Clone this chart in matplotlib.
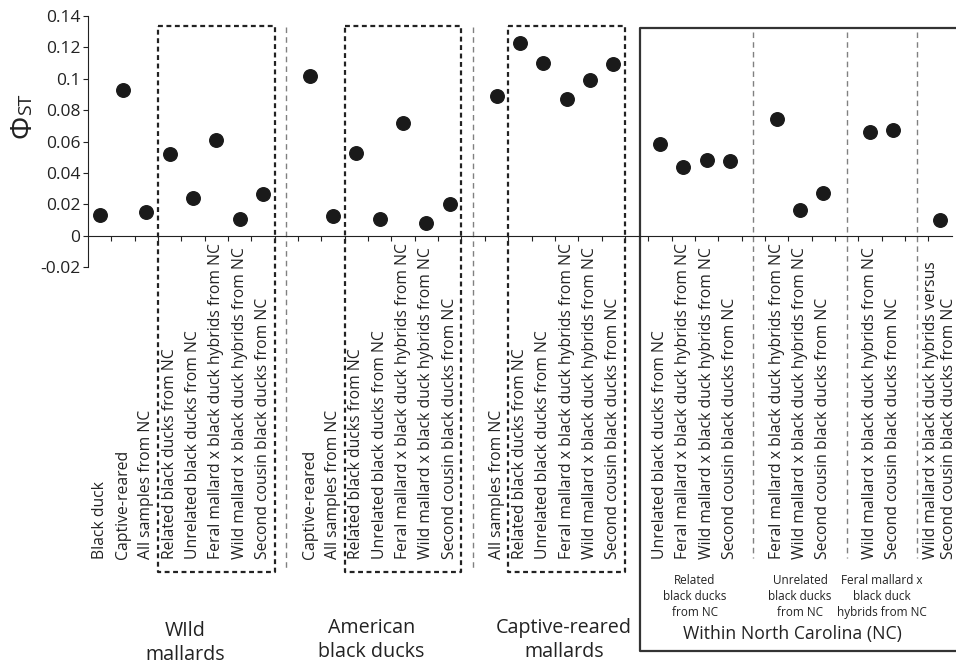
import matplotlib.pyplot as plt
import numpy as np

plt.rcParams['font.family'] = ['Open Sans', 'DejaVu Sans']

# groups of comparisons
wild_labels = ['Black duck', 'Captive-reared', 'All samples from NC',
               'Related black ducks from NC', 'Unrelated black ducks from NC',
               'Feral mallard x black duck hybrids from NC',
               'Wild mallard x black duck hybrids from NC',
               'Second cousin black ducks from NC']
wild_vals = [0.0134, 0.0929, 0.0151, 0.052, 0.024, 0.0611, 0.0108, 0.0265]

abd_labels = ['Captive-reared', 'All samples from NC',
              'Related black ducks from NC', 'Unrelated black ducks from NC',
              'Feral mallard x black duck hybrids from NC',
              'Wild mallard x black duck hybrids from NC',
              'Second cousin black ducks from NC']
abd_vals = [0.1018, 0.0127, 0.0526, 0.0108, 0.0717, 0.0081, 0.0202]

cap_labels = ['All samples from NC', 'Related black ducks from NC',
              'Unrelated black ducks from NC',
              'Feral mallard x black duck hybrids from NC',
              'Wild mallard x black duck hybrids from NC',
              'Second cousin black ducks from NC']
cap_vals = [0.0893, 0.1226, 0.1099, 0.0872, 0.0993, 0.1093]

nc_rel_labels = ['Unrelated black ducks from NC',
                 'Feral mallard x black duck hybrids from NC',
                 'Wild mallard x black duck hybrids from NC',
                 'Second cousin black ducks from NC']
nc_rel_vals = [0.0584, 0.0437, 0.0484, 0.0473]

nc_unrel_labels = ['Feral mallard x black duck hybrids from NC',
                   'Wild mallard x black duck hybrids from NC',
                   'Second cousin black ducks from NC']
nc_unrel_vals = [0.0743, 0.0161, 0.0272]

nc_feral_labels = ['Wild mallard x black duck hybrids from NC',
                   'Second cousin black ducks from NC']
nc_feral_vals = [0.066, 0.0675]

nc_wild_labels = ['Wild mallard x black duck hybrids versus\nSecond cousin black ducks from NC']
nc_wild_vals = [0.0097]

yticks = [-0.02, 0, 0.02, 0.04, 0.06, 0.08, 0.1, 0.12, 0.14]
ytick_labels = ['-0.02', '0', '0.02', '0.04', '0.06', '0.08', '0.1', '0.12', '0.14']

groups = [(wild_labels, wild_vals), (abd_labels, abd_vals), (cap_labels, cap_vals),
          (nc_rel_labels, nc_rel_vals), (nc_unrel_labels, nc_unrel_vals),
          (nc_feral_labels, nc_feral_vals), (nc_wild_labels, nc_wild_vals)]

# slot positions: one empty slot between groups
xs, ys, labels, spans, seps = [], [], [], [], []
pos = 0
for i, (lab, val) in enumerate(groups):
    start = pos
    for l, v in zip(lab, val):
        xs.append(pos)
        ys.append(v)
        labels.append(l)
        pos += 1
    spans.append((start, pos - 1))
    if i < len(groups) - 1:
        seps.append(pos)
        pos += 1

fig = plt.figure(figsize=(9.56, 6.65), dpi=100)
ax = fig.add_axes([88 / 956, (665 - 267) / 665, (951.7 - 88) / 956, (267 - 16) / 665])

ax.scatter(xs, ys, s=95, color='#1a1a1a', zorder=3, clip_on=False)

ax.set_xlim(-0.5, pos - 0.5)
ax.set_ylim(-0.02, 0.14)
ax.spines['top'].set_visible(False)
ax.spines['right'].set_visible(False)
ax.spines['bottom'].set_position(('data', 0))
ax.spines['bottom'].set_color('#222222')
ax.spines['left'].set_color('#222222')

ax.set_xticks(np.arange(0.5, pos - 0.5, 1.0))
ax.set_xticklabels([])
ax.tick_params(axis='x', direction='out', length=3.5, color='#222222')
ax.set_yticks(yticks)
ax.set_yticklabels(ytick_labels)
ax.tick_params(axis='y', direction='out', length=3.5, labelsize=12.5,
               labelcolor='#222222', color='#222222', pad=2)

# rotated category labels
for x, l in zip(xs, labels):
    ax.text(x, -0.2062, l, rotation=90, ha='center', va='bottom', fontsize=11.35,
            color='#222222', multialignment='left', clip_on=False)

# dashed boxes around the NC sub-comparisons of the first three groups
for (a, b) in spans[:3]:
    x0, x1 = b - 4.5, b + 0.5
    ax.plot([x0, x1, x1, x0, x0], [0.1336, 0.1336, -0.2145, -0.2145, 0.1336],
            color='#222222', lw=1.6, ls=(0, (2.2, 1.6)), clip_on=False)

# gray separators between the first three groups
for s in seps[:2]:
    ax.plot([s, s], [0.1332, -0.2126], color='#808080', lw=1, ls=(0, (4, 3)),
            clip_on=False)

# separators inside the North Carolina block
for s in seps[3:]:
    ax.plot([s, s], [0.1301, -0.2056], color='#808080', lw=1, ls=(0, (4, 3)),
            clip_on=False)

# solid box for the North Carolina block
bx = seps[2] + 0.15
ax.plot([pos + 2, bx, bx, pos + 2], [0.1323, 0.1323, -0.2648, -0.2648],
        color='#333333', lw=1.6, clip_on=False)

group_names = ['WIld\nmallards', 'American\nblack ducks', 'Captive-reared\nmallards']
group_x = [3.65, 11.65, 19.9]
group_y = [-0.2595, -0.2580, -0.2580]
for gx, gy, name in zip(group_x, group_y, group_names):
    ax.text(gx, gy, name, ha='center', va='center', fontsize=14.2,
            color='#222222', linespacing=1.25, clip_on=False)

sub_names = ['Related\nblack ducks\nfrom NC', 'Unrelated\nblack ducks\nfrom NC',
             'Feral mallard x\nblack duck\nhybrids from NC']
for (a, b), name in zip(spans[3:6], sub_names):
    ax.text((a + b) / 2, -0.2298, name, ha='center', va='center', fontsize=8.5,
            color='#222222', linespacing=1.3, clip_on=False)

ax.text(29.66, -0.254, 'Within North Carolina (NC)', ha='center', va='center',
        fontsize=12.7, color='#222222', clip_on=False)

fig.text(23.3 / 956, 1 - 126.5 / 665, '\u03a6', rotation=90, ha='center', va='center',
         fontsize=21, color='#222222')
fig.text(26 / 956, 1 - 104.5 / 665, 'ST', rotation=90, ha='center', va='center',
         fontsize=14, color='#222222')

fig.savefig('out.png', dpi=100)
